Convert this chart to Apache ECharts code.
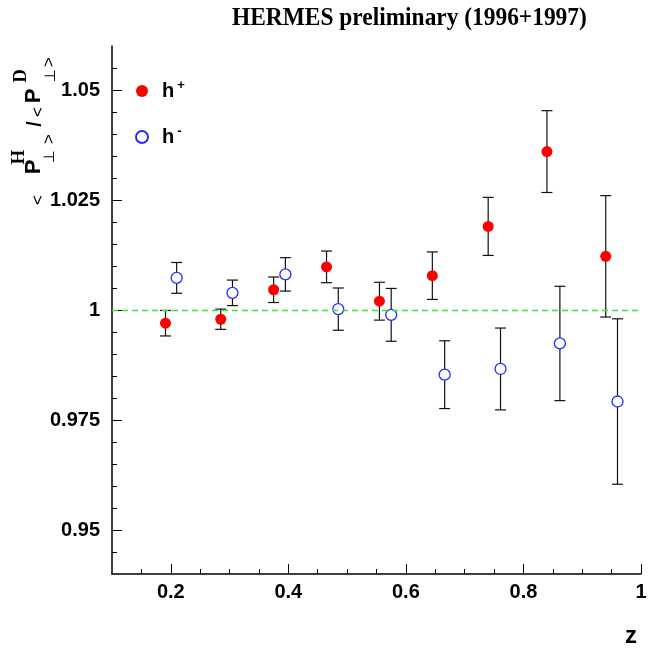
<!DOCTYPE html>
<html>
<head>
<meta charset="utf-8">
<script src="https://cdn.jsdelivr.net/npm/echarts@6/dist/echarts.min.js"></script>
<style>
  html, body { margin: 0; padding: 0; background: #fff; }
  #chart { width: 660px; height: 649px; }
</style>
</head>
<body>
<div id="chart"></div>
<script>
// Ratio of mean transverse momenta, hydrogen over deuterium, vs z
const zPos     = [0.191, 0.285, 0.375, 0.465, 0.555, 0.645, 0.740, 0.840, 0.940];
const ratioPos = [0.9970, 0.9979, 1.0046, 1.0098, 1.0020, 1.0078, 1.0190, 1.0360, 1.0122];
const errPos   = [0.0029, 0.0023, 0.0029, 0.0036, 0.0043, 0.0054, 0.0066, 0.0093, 0.0138];

const zNeg     = [0.210, 0.305, 0.395, 0.485, 0.575, 0.666, 0.761, 0.862, 0.960];
const ratioNeg = [1.0073, 1.0039, 1.0081, 1.0002, 0.9989, 0.9853, 0.9866, 0.9924, 0.9792];
const errNeg   = [0.0035, 0.0029, 0.0038, 0.0048, 0.0060, 0.0077, 0.0093, 0.0130, 0.0188];

const xMajorTicks = [0.2, 0.4, 0.6, 0.8, 1.0];
const xMinorTicks = [0.15, 0.25, 0.3, 0.35, 0.45, 0.5, 0.55, 0.65, 0.7, 0.75, 0.85, 0.9, 0.95];
const yMajorTicks = [0.95, 0.975, 1, 1.025, 1.05];
const yMinorTicks = [0.945, 0.955, 0.96, 0.965, 0.97, 0.98, 0.985, 0.99, 0.995,
                     1.005, 1.01, 1.015, 1.02, 1.03, 1.035, 1.04, 1.045, 1.055];

const RED = '#ff0000';
const BLUE = '#2a2aff';
const SANS = 'Liberation Sans, Arial, sans-serif';
const SERIF = 'Liberation Serif, Times New Roman, serif';

const pointsPos = zPos.map((z, i) => [z, ratioPos[i]]);
const pointsNeg = zNeg.map((z, i) => [z, ratioNeg[i]]);
const barsPos = zPos.map((z, i) => [z, ratioPos[i], errPos[i]]);
const barsNeg = zNeg.map((z, i) => [z, ratioNeg[i], errNeg[i]]);

function renderErrorBar(params, api) {
  const x = api.value(0), y = api.value(1), e = api.value(2);
  const top = api.coord([x, y + e]);
  const bot = api.coord([x, y - e]);
  const cap = 5.5;
  const style = { stroke: '#111', lineWidth: 1.2 };
  return {
    type: 'group',
    children: [
      { type: 'line', shape: { x1: top[0], y1: top[1], x2: bot[0], y2: bot[1] }, style },
      { type: 'line', shape: { x1: top[0] - cap, y1: top[1], x2: top[0] + cap, y2: top[1] }, style },
      { type: 'line', shape: { x1: bot[0] - cap, y1: bot[1], x2: bot[0] + cap, y2: bot[1] }, style }
    ]
  };
}

// Rotated y-axis title <P_perp^H>/<P_perp^D>, laid out along the reading
// direction: u = distance up from the baseline origin, v = offset to the right.
const Y_TITLE_ORIGIN = [38, 205];
const yTitleParts = [
  { t: '<', u: 5,   v: 0,   font: 'normal 17px ' + SANS },
  { t: 'P', u: 38,  v: -4,  font: 'bold 22px ' + SANS },
  { t: 'H', u: 48,  v: -19, font: 'bold 19px ' + SERIF },
  { t: '\u22A5', u: 48, v: 12, font: 'normal 15px DejaVu Sans' },
  { t: '>', u: 66,  v: 11,  font: 'normal 17px ' + SANS },
  { t: '/', u: 81,  v: -3,  font: 'bold 20px ' + SANS },
  { t: '<', u: 93,  v: 0,   font: 'normal 17px ' + SANS },
  { t: 'P', u: 109, v: -4,  font: 'bold 22px ' + SANS },
  { t: 'D', u: 129, v: -17, font: 'bold 19px ' + SERIF },
  { t: '\u22A5', u: 129, v: 13, font: 'normal 15px DejaVu Sans' },
  { t: '>', u: 143, v: 11,  font: 'normal 17px ' + SANS }
];

const chart = echarts.init(document.getElementById('chart'), null, { renderer: 'canvas' });

const tickLabel = { fontFamily: SANS, fontWeight: 'bold', fontSize: 20, color: '#000' };

chart.setOption({
  animation: false,
  backgroundColor: '#fff',
  legend: {
    data: ['h+', 'h-'],
    orient: 'vertical',
    left: 130, top: 74,
    itemWidth: 12, itemHeight: 12, itemGap: 19,
    selectedMode: false,
    formatter: name => name === 'h+' ? '{h|h}{sup|+}' : '{h|h}{sup|-}',
    textStyle: {
      padding: [0, 0, 0, 9],
      rich: {
        h: { fontFamily: SANS, fontWeight: 'bold', fontSize: 20, color: '#000', lineHeight: 24 },
        sup: { fontFamily: SANS, fontWeight: 'bold', fontSize: 13, color: '#000', verticalAlign: 'top', lineHeight: 24, padding: [0, 0, 14, 3] }
      }
    }
  },
  grid: { left: 112, right: 19, top: 46, bottom: 75, containLabel: false },
  xAxis: [
    {
      type: 'value', min: 0.1, max: 1.0,
      axisLine: { show: true, lineStyle: { color: '#000', width: 1.5 } },
      axisTick: { show: true, inside: true, length: 10, customValues: xMajorTicks, lineStyle: { color: '#000', width: 1 } },
      axisLabel: { show: true, customValues: xMajorTicks, margin: 8, ...tickLabel,
                   formatter: v => (Math.abs(v - 1) < 1e-9 ? '1' : v.toFixed(1)) },
      splitLine: { show: false }
    },
    {
      type: 'value', min: 0.1, max: 1.0, position: 'bottom',
      axisLine: { show: false },
      axisTick: { show: true, inside: true, length: 5, customValues: xMinorTicks, lineStyle: { color: '#000', width: 1 } },
      axisLabel: { show: false },
      splitLine: { show: false }
    }
  ],
  yAxis: [
    {
      type: 'value', min: 0.94, max: 1.06,
      axisLine: { show: true, lineStyle: { color: '#000', width: 1.5 } },
      axisTick: { show: true, inside: true, length: 10, customValues: yMajorTicks, lineStyle: { color: '#000', width: 1 } },
      axisLabel: { show: true, customValues: yMajorTicks, margin: 12, ...tickLabel,
                   formatter: v => (Math.abs(v - 1) < 1e-9 ? '1' : String(+v.toFixed(3))) },
      splitLine: { show: false }
    },
    {
      type: 'value', min: 0.94, max: 1.06, position: 'left',
      axisLine: { show: false },
      axisTick: { show: true, inside: true, length: 5, customValues: yMinorTicks, lineStyle: { color: '#000', width: 1 } },
      axisLabel: { show: false },
      splitLine: { show: false }
    }
  ],
  series: [
    {
      name: 'h+ errors', type: 'custom', xAxisIndex: 0, yAxisIndex: 0,
      renderItem: renderErrorBar, data: barsPos, z: 2, silent: true
    },
    {
      name: 'h- errors', type: 'custom', xAxisIndex: 0, yAxisIndex: 0,
      renderItem: renderErrorBar, data: barsNeg, z: 2, silent: true
    },
    {
      name: 'h+', type: 'scatter', xAxisIndex: 0, yAxisIndex: 0,
      data: pointsPos, symbol: 'circle', symbolSize: 11, z: 4,
      itemStyle: { color: RED, opacity: 1 },
      markLine: {
        silent: true, symbol: 'none', animation: false,
        label: { show: false },
        lineStyle: { color: '#3ee03e', type: [6, 4], width: 1.3, opacity: 1 },
        data: [{ yAxis: 1 }]
      }
    },
    {
      name: 'h-', type: 'scatter', xAxisIndex: 0, yAxisIndex: 0,
      data: pointsNeg, symbol: 'circle', symbolSize: 11, z: 4,
      itemStyle: { color: '#fff', borderColor: BLUE, borderWidth: 1.3, opacity: 1 }
    }
  ],
  graphic: [
    {
      type: 'text', x: 232, y: 18, scaleX: 0.9,
      style: { text: 'HERMES preliminary (1996+1997)', font: 'bold 26px ' + SERIF, fill: '#000', align: 'left', verticalAlign: 'middle' }
    },
    {
      type: 'group', x: Y_TITLE_ORIGIN[0], y: Y_TITLE_ORIGIN[1], rotation: Math.PI / 2,
      children: yTitleParts.map(p => ({
        type: 'text', x: p.u, y: p.v,
        style: { text: p.t, font: p.font, fill: '#000', align: 'center', verticalAlign: 'middle' }
      }))
    },
    {
      type: 'text', x: 631, y: 636,
      style: { text: 'z', font: 'bold 24px ' + SANS, fill: '#000', align: 'center', verticalAlign: 'middle' }
    }
  ]
});
</script>
</body>
</html>
